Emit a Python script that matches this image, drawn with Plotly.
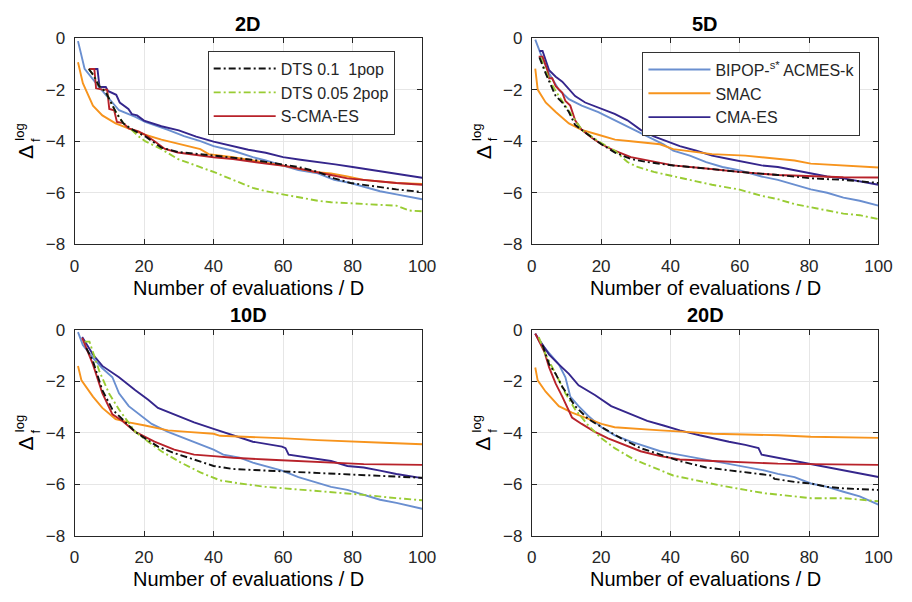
import plotly.graph_objects as go

# ---------------- data ----------------
X_TICKS = [0, 20, 40, 60, 80, 100]
Y_TICKS = [0, -2, -4, -6, -8]
PANELS = ["2D", "5D", "10D", "20D"]
NAMES = ["DTS 0.1  1pop", "DTS 0.05 2pop", "S-CMA-ES",
         "BIPOP-<sup>s*</sup> ACMES-k", "SMAC", "CMA-ES"]

# 2D
dts1_2d_x = [4.1, 5.5, 7, 9, 10.5, 12, 14, 16, 18, 20.3, 25, 29.7, 36, 40, 45.6, 51, 55, 59.7, 64.4, 70, 74.7, 79.4, 83, 88, 92.6, 100]
dts1_2d_y = [-1.2, -1.45, -1.85, -2.1, -2.5, -2.9, -3.3, -3.5, -3.65, -3.81, -4.25, -4.42, -4.5, -4.56, -4.62, -4.72, -4.8, -4.9, -5.0, -5.19, -5.44, -5.62, -5.69, -5.81, -5.87, -5.97]
dts2_2d_x = [4.1, 5.5, 7, 9, 10.5, 12, 14, 16, 18.4, 20.3, 25, 29.7, 36, 40, 45.6, 51.3, 55, 59.7, 64.4, 70, 73.8, 83, 92.6, 96.4, 100]
dts2_2d_y = [-1.2, -1.45, -1.85, -2.1, -2.5, -2.9, -3.3, -3.5, -3.81, -4.0, -4.31, -4.69, -5.0, -5.19, -5.5, -5.81, -5.94, -6.06, -6.19, -6.31, -6.37, -6.44, -6.5, -6.69, -6.72]
scma_2d_x = [4.1, 5.7, 6.2, 8.0, 9.4, 10.0, 11.4, 12.2, 14.0, 15.6, 18.4, 20.3, 23, 26, 29.7, 36, 40, 45.6, 51, 55, 59.7, 64.4, 70, 73.8, 78.5, 83, 88, 92.6, 100]
scma_2d_y = [-1.2, -1.2, -1.95, -2.0, -2.0, -2.75, -2.8, -3.25, -3.3, -3.5, -3.62, -3.75, -4.0, -4.3, -4.44, -4.56, -4.62, -4.69, -4.81, -4.87, -4.94, -5.06, -5.19, -5.31, -5.44, -5.5, -5.56, -5.62, -5.69]
bipop_2d_x = [1, 2.9, 7.1, 10.9, 12.8, 17.5, 20.3, 26.9, 31.5, 36.2, 40, 45.6, 51.3, 55, 59.7, 64.4, 70, 74.7, 79.4, 83.2, 87.9, 92.6, 100]
bipop_2d_y = [-0.12, -1.19, -1.9, -2.5, -2.8, -3.06, -3.25, -3.56, -3.8, -4.0, -4.19, -4.37, -4.62, -4.75, -4.94, -5.12, -5.25, -5.5, -5.62, -5.75, -5.94, -6.06, -6.25]
smac_2d_x = [1, 2.4, 5.3, 8, 11.8, 15.6, 20.3, 25, 30.6, 36.2, 38.6, 45.6, 51.3, 59.7, 69, 73.8, 78.5, 83.2, 92.6, 100]
smac_2d_y = [-0.94, -1.75, -2.62, -3.0, -3.31, -3.5, -3.75, -3.94, -4.12, -4.31, -4.5, -4.62, -4.75, -4.94, -5.19, -5.25, -5.37, -5.5, -5.62, -5.66]
cma_2d_x = [5.0, 6.6, 7.2, 9.0, 9.6, 11.0, 12.0, 13.0, 14.0, 15.5, 16.5, 18.0, 20, 22, 25, 30, 35, 40, 45, 50, 55, 60, 65, 70, 75, 80, 85, 90, 95, 100]
cma_2d_y = [-1.2, -1.2, -1.9, -1.9, -2.05, -2.15, -2.2, -2.5, -2.6, -2.75, -2.95, -3.0, -3.2, -3.3, -3.42, -3.58, -3.82, -4.02, -4.18, -4.33, -4.45, -4.62, -4.72, -4.8, -4.9, -5.0, -5.1, -5.2, -5.3, -5.42]

# 5D
dts1_5d_x = [2.2, 4, 6.9, 8.8, 10.7, 12.5, 16.3, 20.1, 24, 28.6, 33.3, 40.8, 50.3, 59.7, 71, 80.5, 89.9, 100]
dts1_5d_y = [-0.75, -1.37, -2.25, -2.5, -2.87, -3.37, -3.75, -4.12, -4.44, -4.69, -4.81, -4.94, -5.06, -5.19, -5.31, -5.44, -5.5, -5.62]
dts2_5d_x = [2.5, 5, 7.8, 11.6, 14.4, 19.2, 24, 27.6, 30.5, 35.2, 40.8, 47.5, 52, 59.7, 66.3, 71, 75.8, 80.5, 85.2, 89.9, 94.6, 100]
dts2_5d_y = [-0.75, -1.62, -2.25, -3.0, -3.56, -4.0, -4.37, -4.81, -5.0, -5.19, -5.37, -5.56, -5.69, -5.87, -6.12, -6.25, -6.44, -6.56, -6.69, -6.81, -6.87, -7.02]
scma_5d_x = [2, 3.1, 4.5, 5, 5.9, 6.9, 8.8, 9.7, 11.1, 12.5, 14.4, 17.3, 20.1, 23.9, 28.6, 33.3, 40.8, 50.3, 59.7, 71, 80.5, 89.9, 100]
scma_5d_y = [-0.72, -0.72, -1.25, -1.56, -1.56, -1.87, -2.12, -2.44, -2.62, -3.19, -3.56, -3.87, -4.12, -4.37, -4.62, -4.75, -4.94, -5.06, -5.19, -5.31, -5.37, -5.4, -5.41]
bipop_5d_x = [1, 2.6, 5, 7.8, 10.7, 14.4, 19.2, 23.9, 28.6, 33.3, 38, 40.8, 45.6, 50.3, 55, 59.7, 66.3, 71, 75.8, 80.5, 85.2, 89.9, 94.6, 100]
bipop_5d_y = [-0.06, -0.62, -1.37, -2.0, -2.37, -2.62, -2.87, -3.19, -3.5, -3.81, -4.12, -4.37, -4.56, -4.81, -5.0, -5.12, -5.37, -5.5, -5.69, -5.87, -6.0, -6.19, -6.31, -6.5]
smac_5d_x = [1, 1.7, 4, 6.9, 10.7, 14.4, 19.2, 24, 28.6, 37, 40.8, 47.5, 52, 61.6, 71, 75.8, 80.5, 89.9, 100]
smac_5d_y = [-1.19, -2.0, -2.5, -2.87, -3.31, -3.56, -3.75, -3.94, -4.0, -4.12, -4.31, -4.44, -4.5, -4.56, -4.69, -4.75, -4.87, -4.94, -5.02]
cma_5d_x = [2.2, 3.1, 5, 6.9, 8.8, 10.7, 12.5, 15.4, 19.2, 23.9, 27.6, 31.4, 35.2, 39, 42.7, 47.5, 52, 56.9, 61.6, 66.3, 71, 75.8, 80.5, 85.2, 89.9, 94.6, 100]
cma_5d_y = [-0.5, -0.5, -1.25, -1.5, -1.69, -2.0, -2.25, -2.5, -2.69, -2.94, -3.19, -3.56, -3.81, -4.0, -4.19, -4.37, -4.56, -4.69, -4.81, -4.94, -5.0, -5.12, -5.25, -5.37, -5.44, -5.56, -5.69]

# 10D
dts1_10d_x = [3.4, 5.3, 8, 10.9, 13.7, 17.5, 20.3, 24, 28.7, 34.4, 40, 45.6, 55, 64.4, 73.8, 83.2, 92.6, 100]
dts1_10d_y = [-0.72, -1.22, -2.35, -3.1, -3.47, -3.97, -4.22, -4.54, -4.79, -5.04, -5.29, -5.41, -5.47, -5.54, -5.6, -5.66, -5.72, -5.75]
dts2_10d_x = [2.9, 4.3, 7.1, 9.9, 12.8, 17.5, 21.2, 25, 30.6, 36.2, 41.9, 47.5, 55, 64.4, 73.8, 83.2, 92.6, 100]
dts2_10d_y = [-0.47, -0.47, -1.6, -2.47, -3.1, -3.97, -4.35, -4.72, -5.16, -5.54, -5.85, -5.97, -6.1, -6.2, -6.29, -6.41, -6.54, -6.62]
scma_10d_x = [2.2, 5.3, 8, 10.9, 13.7, 17.5, 20.3, 23, 28.7, 34.4, 40, 45.6, 55, 64.4, 73.8, 83.2, 100]
scma_10d_y = [-0.32, -1.35, -2.47, -3.29, -3.54, -3.97, -4.16, -4.35, -4.66, -4.85, -4.91, -4.97, -5.04, -5.1, -5.16, -5.22, -5.25]
bipop_10d_x = [1, 2.4, 5.3, 8, 10.9, 12.8, 15.6, 19.3, 22.2, 26.9, 31.5, 36.2, 40, 42.8, 47.5, 51.3, 55, 59.7, 64.4, 69, 73.8, 78.5, 83.2, 87.9, 92.6, 100]
bipop_10d_y = [-0.1, -0.6, -1.1, -1.5, -1.85, -2.47, -2.97, -3.35, -3.66, -3.97, -4.22, -4.47, -4.66, -4.85, -4.97, -5.16, -5.29, -5.47, -5.72, -5.91, -6.1, -6.22, -6.41, -6.6, -6.72, -6.95]
smac_10d_x = [1, 2, 5.3, 8, 11.8, 15.6, 20.3, 26.9, 32.5, 40, 41.9, 51.3, 60.7, 70, 79.4, 88.8, 100]
smac_10d_y = [-1.41, -1.97, -2.6, -3.04, -3.47, -3.6, -3.72, -3.91, -3.97, -4.04, -4.12, -4.16, -4.22, -4.29, -4.35, -4.39, -4.45]
cma_10d_x = [2.2, 5.3, 8, 12.8, 17.5, 21.2, 24, 28.7, 34.4, 40, 45.6, 51.3, 59.7, 60.7, 61.6, 64.4, 70, 73.8, 78.5, 83.2, 87.9, 92.6, 100]
cma_10d_y = [-0.29, -0.97, -1.41, -1.85, -2.35, -2.72, -3.04, -3.29, -3.6, -3.85, -4.1, -4.35, -4.54, -4.6, -4.85, -4.91, -5.04, -5.1, -5.29, -5.35, -5.47, -5.6, -5.76]

# 20D
dts1_20d_x = [3.1, 5, 6.9, 8.8, 12.5, 16.3, 21, 25.8, 31.4, 37.1, 42.7, 50.3, 57.8, 66.3, 69.2, 70, 75.8, 80.5, 85.2, 89.9, 100]
dts1_20d_y = [-0.6, -1.35, -1.72, -2.22, -2.97, -3.47, -3.85, -4.22, -4.6, -4.85, -5.1, -5.35, -5.47, -5.6, -5.66, -5.79, -5.91, -5.97, -6.1, -6.16, -6.22]
dts2_20d_x = [2, 4, 6.9, 9.7, 12.5, 16.3, 20.1, 23.9, 29.5, 35.2, 40.8, 47.5, 54.1, 61.6, 67.3, 75.8, 80.5, 89.9, 100]
dts2_20d_y = [-0.29, -0.97, -1.72, -2.47, -3.1, -3.72, -4.22, -4.6, -5.04, -5.35, -5.66, -5.85, -6.04, -6.22, -6.35, -6.47, -6.54, -6.54, -6.66]
scma_20d_x = [1, 3.6, 5, 6.9, 8.8, 11.6, 14.4, 18.2, 22, 26.7, 31.4, 37.1, 42.7, 52.2, 61.6, 71, 80.5, 100]
scma_20d_y = [-0.16, -0.85, -1.47, -2.1, -2.6, -3.41, -3.66, -3.97, -4.22, -4.47, -4.72, -4.91, -5.04, -5.1, -5.16, -5.2, -5.22, -5.25]
bipop_20d_x = [1, 2.2, 5, 7.8, 9.7, 11.1, 13.5, 16.3, 20.1, 23.9, 28.6, 33.3, 37.1, 39.9, 44.6, 52.2, 56.9, 61.6, 67.3, 71, 75.8, 80.5, 85.2, 89.9, 94.6, 100]
bipop_20d_y = [-0.16, -0.47, -0.91, -1.35, -1.85, -2.6, -2.97, -3.35, -3.79, -4.1, -4.35, -4.54, -4.72, -4.79, -4.91, -5.1, -5.22, -5.35, -5.47, -5.6, -5.72, -5.97, -6.1, -6.29, -6.47, -6.79]
smac_20d_x = [1, 1.7, 4, 7.8, 11.6, 16.3, 20.1, 23.9, 29.5, 37.1, 44.6, 52.2, 61.6, 71, 80.5, 100]
smac_20d_y = [-1.47, -1.97, -2.41, -2.97, -3.22, -3.47, -3.66, -3.79, -3.85, -3.91, -3.97, -4.04, -4.07, -4.1, -4.16, -4.2]
cma_20d_x = [1, 3.1, 5, 7.8, 10.7, 13.5, 18.2, 22.9, 28.6, 33.3, 38, 42.7, 48.4, 52.2, 56.9, 61.6, 65.4, 66.3, 71, 75.8, 80.5, 85.2, 89.9, 94.6, 100]
cma_20d_y = [-0.16, -0.6, -0.97, -1.35, -1.72, -2.16, -2.54, -2.97, -3.29, -3.54, -3.72, -3.91, -4.1, -4.22, -4.35, -4.47, -4.6, -4.85, -4.97, -5.1, -5.22, -5.35, -5.47, -5.6, -5.72]

# ---------------- styling ----------------
FONT = "Arial, 'Liberation Sans', sans-serif"
COLORS = ["#111111", "#99cc33", "#b8222a", "#6a8fd0", "#f7941d", "#35268c"]
DASHES = ["7px,3px,2px,3px", "7px,3px,2px,3px", "solid", "solid", "solid", "solid"]
AXC = "#262626"

series = {
    "2D": [(dts1_2d_x, dts1_2d_y), (dts2_2d_x, dts2_2d_y), (scma_2d_x, scma_2d_y),
           (bipop_2d_x, bipop_2d_y), (smac_2d_x, smac_2d_y), (cma_2d_x, cma_2d_y)],
    "5D": [(dts1_5d_x, dts1_5d_y), (dts2_5d_x, dts2_5d_y), (scma_5d_x, scma_5d_y),
           (bipop_5d_x, bipop_5d_y), (smac_5d_x, smac_5d_y), (cma_5d_x, cma_5d_y)],
    "10D": [(dts1_10d_x, dts1_10d_y), (dts2_10d_x, dts2_10d_y), (scma_10d_x, scma_10d_y),
            (bipop_10d_x, bipop_10d_y), (smac_10d_x, smac_10d_y), (cma_10d_x, cma_10d_y)],
    "20D": [(dts1_20d_x, dts1_20d_y), (dts2_20d_x, dts2_20d_y), (scma_20d_x, scma_20d_y),
            (bipop_20d_x, bipop_20d_y), (smac_20d_x, smac_20d_y), (cma_20d_x, cma_20d_y)],
}

W, H = 912, 602
# plot-area pixel boxes (left, right, top, bottom)
boxes = [(71, 426, 30, 243), (538, 892, 30, 243), (71, 426, 331, 544), (538, 892, 331, 544)]

fig = go.Figure()
order = [3, 5, 4, 2, 1, 0]
for p, panel in enumerate(PANELS):
    ax = "" if p == 0 else str(p + 1)
    for i in order:
        xs, ys = series[panel][i]
        leg = "legend" if i < 3 else "legend2"
        fig.add_trace(go.Scatter(
            x=xs, y=ys, mode="lines", name=NAMES[i],
            xaxis="x" + ax, yaxis="y" + ax,
            line=dict(color=COLORS[i], width=1.9, dash=DASHES[i]),
            showlegend=(p == 0), legend=leg,
            legendrank=i + 1,
        ))

layout = dict(width=W, height=H, autosize=False,
              margin=dict(l=0, r=0, t=0, b=0),
              paper_bgcolor="white", plot_bgcolor="white",
              font=dict(family=FONT, size=16, color=AXC),
              annotations=[])

for p, (l, r, t, b) in enumerate(boxes):
    ax = "" if p == 0 else str(p + 1)
    layout["xaxis" + ax] = dict(
        domain=[l / W, r / W], range=[0, 100], tickvals=X_TICKS,
        anchor="y" + ax, showline=True, linecolor=AXC, linewidth=1, mirror="ticks",
        ticks="inside", ticklen=5, tickcolor=AXC, showgrid=True, gridcolor="#e6e6e6",
        zeroline=False, tickfont=dict(size=17, color=AXC, family=FONT),
        ticklabelstandoff=6,
    )
    layout["yaxis" + ax] = dict(
        domain=[1 - b / H, 1 - t / H], range=[-8, 0], tickvals=Y_TICKS,
        anchor="x" + ax, showline=True, linecolor=AXC, linewidth=1, mirror="ticks",
        ticks="inside", ticklen=5, tickcolor=AXC, showgrid=True, gridcolor="#e6e6e6",
        zeroline=False, tickfont=dict(size=17, color=AXC, family=FONT),
        ticklabelstandoff=5,
    )
    cx = (l + r) / 2 / W
    layout["annotations"].append(dict(
        text="<b>" + PANELS[p] + "</b>", x=cx, y=1 - (t - 15) / H, xref="paper", yref="paper",
        showarrow=False, xanchor="center", yanchor="middle", font=dict(size=20, color="black", family=FONT)))
    layout["annotations"].append(dict(
        text="Number of evaluations / D", x=cx, y=1 - (b + 45) / H, xref="paper", yref="paper",
        showarrow=False, xanchor="center", yanchor="middle", font=dict(size=20, color="black", family=FONT)))
    layout["annotations"].append(dict(
        text="Δ", x=(l - 50) / W, y=1 - (t + 118) / H, xref="paper", yref="paper", textangle=-90,
        showarrow=False, xanchor="center", yanchor="middle", font=dict(size=21, color="black", family=FONT)))
    layout["annotations"].append(dict(
        text="f", x=(l - 40) / W, y=1 - (t + 105) / H, xref="paper", yref="paper", textangle=-90,
        showarrow=False, xanchor="center", yanchor="middle", font=dict(size=13, color="black", family=FONT)))
    layout["annotations"].append(dict(
        text="log", x=(l - 56) / W, y=1 - (t + 97) / H, xref="paper", yref="paper", textangle=-90,
        showarrow=False, xanchor="center", yanchor="middle", font=dict(size=13, color="black", family=FONT)))

common_leg = dict(bgcolor="white", bordercolor="#333333", borderwidth=1,
                  font=dict(size=16, color=AXC, family=FONT), itemwidth=62,
                  xanchor="left", yanchor="top", xref="paper", yref="paper",
                  traceorder="normal", tracegroupgap=0)
layout["legend"] = dict(common_leg, x=207 / W, y=1 - 43 / H)
layout["legend2"] = dict(common_leg, x=651 / W, y=1 - 44 / H)

fig.update_layout(**layout)
fig.write_html("out.html")
